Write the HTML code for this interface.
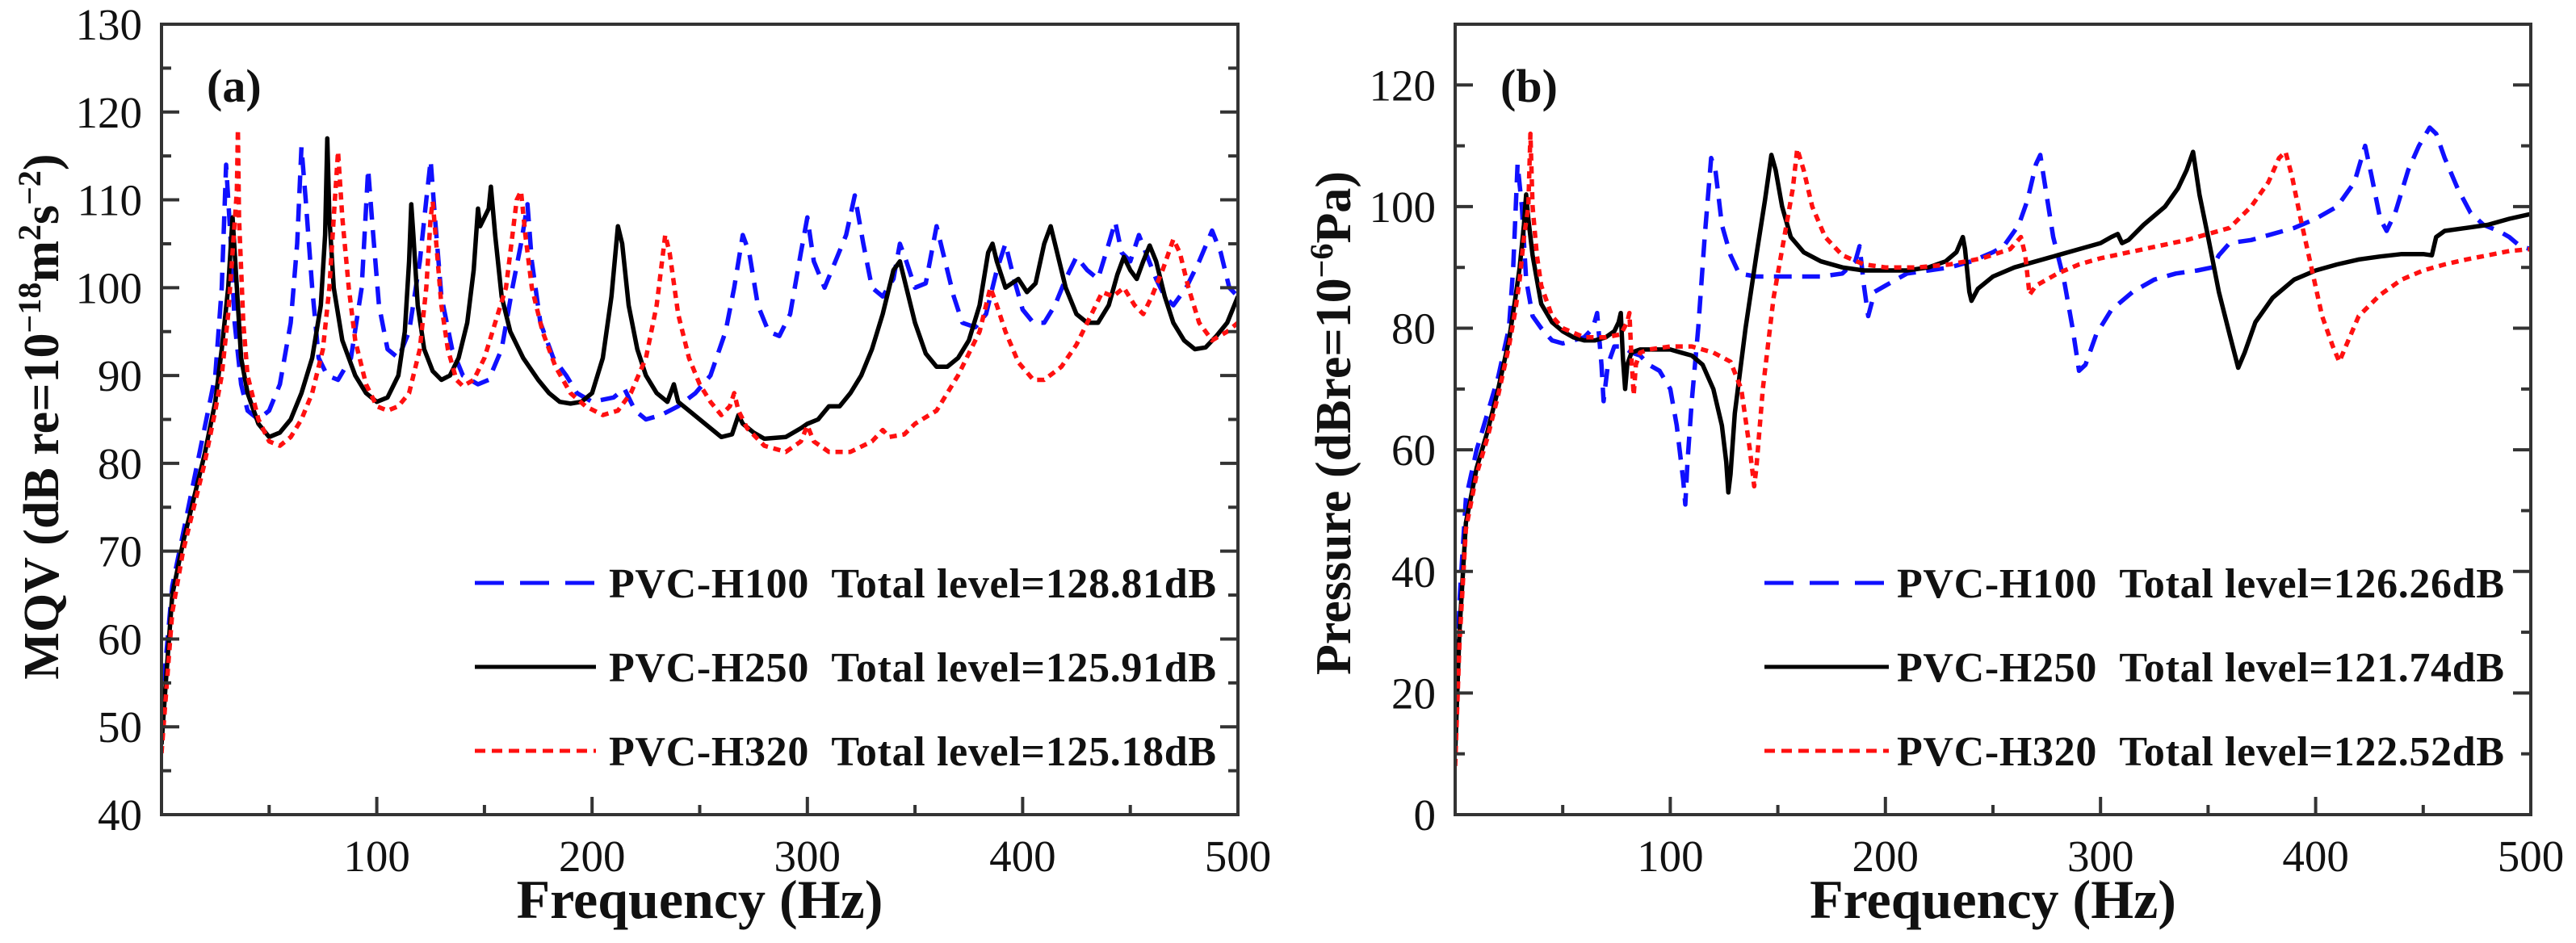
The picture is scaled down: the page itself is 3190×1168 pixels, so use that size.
<!DOCTYPE html>
<html><head><meta charset="utf-8"><style>
html,body{margin:0;padding:0;background:#fff}
svg{display:block}
text{font-family:"Liberation Serif","DejaVu Serif",serif;fill:#111}
</style></head><body>
<svg id="fig" width="3190" height="1168" viewBox="0 0 3190 1168" xmlns="http://www.w3.org/2000/svg">
<g id="pa"></g>
<g id="pb"></g>
</svg>
<script>
// ---- Panel (a) data: MQV ----
const aFreqH100=[0,5,10,15,20,25,28,30,32,34,37,40,45,50,55,60,63,65,67,70,73,77,82,88,93,96,98,101,105,110,115,120,123,125,127,130,135,140,147,152,158,163,167,170,172,176,182,188,193,200,210,215,220,225,232,240,248,255,262,266,270,273,277,282,287,292,297,300,303,308,313,318,322,326,330,335,340,343,346,350,355,360,364,368,372,378,383,388,392,396,400,405,410,415,420,425,430,435,440,443,446,450,454,458,462,466,470,476,482,488,492,496,500];
const aValH100=[52,66,72,78,84,90,100,114,106,96,89,86,85,86,89,96,105,116,110,100,92,90,89.5,92,100,113.5,107,98,93,92,95,103,110,114.5,108,99,93,90,89,89.5,93,100,105,109.5,103,96,92,90,88,87,87.5,88.5,86,85,85.5,86.5,88,90,95,100,106,104,98,95,94.5,97,104,108,103,100,103,106,110.5,105,100,99,101,105,103,100,100.5,107,103,99,96,95.5,97,102,105,101,97.5,96,96,98,101,103.5,102,101,105,107.5,104,103,106,103.5,101,99,98,100,103,106.5,104,100,99];
const aFreqH250=[0,2,5,10,15,20,25,28,31,33,35,37,40,45,50,55,60,65,70,74,76,77,78,80,84,90,95,100,105,110,113,115,116,117,119,122,126,130,134,138,142,145,147,148,150,152,153,155,158,162,168,175,180,185,190,195,200,205,209,212,214,217,221,225,230,235,238,240,245,250,255,260,265,268,270,275,280,290,297,300,305,310,315,320,325,330,335,340,343,346,350,355,360,365,370,375,380,384,386,388,392,395,398,402,406,410,413,416,420,425,430,435,440,444,447,450,453,456,459,462,466,470,475,480,485,490,495,500];
const aValH250=[48,55,65,71,76,81,87,93,100,108,100,92,88,84.5,83,83.5,85,88,92,98,106,117,108,100,94,90,88,87,87.5,90,95,103,109.5,106,98,93,90.5,89.5,90,92,96,102,109,107,108,109,111.5,106,99,95,92,89.5,88,87,86.8,87,88,92,99,107,105,98,93,90,88,87,89,87,86,85,84,83,83.3,85.5,84.5,83.5,82.8,83,84,84.5,85,86.5,86.5,88,90,93,97,102,103,100,96,92.5,91,91,92,94,98,104,105,103,100,100.5,101,99.5,100.5,105,107,104,100,97,96,96,98,101.5,103.5,102,101,103,104.8,103,99,96,94,93,93.2,94.5,96,99];
const aFreqH320=[0,5,10,15,20,25,28,31,33,35,35.5,36,38,40,45,50,55,60,65,70,75,78,80,82,84,87,90,95,100,105,110,115,120,123,125,126,128,130,133,137,140,145,150,155,160,163,165,167,169,172,177,183,190,197,205,212,218,225,230,234,236,240,245,250,255,260,264,266,268,272,280,290,297,300,303,310,320,330,335,338,345,350,360,370,380,385,388,392,398,405,410,418,425,432,437,442,447,452,456,460,465,470,473,477,482,488,495,500];
const aValH320=[47,63,70,75,80,86,90,97,104,111,118,108,96,90,85,82.5,82,83,85,88,93,100,108,115.5,108,100,94,89,86.5,86,86.5,88,93,100,108,109.8,104,98,93,89.5,88.8,89.5,92,96,100,106,110,111,106,100,95,91,88,86.5,85.5,86,88,92,98,106,104,97,92,89,87,85.5,86.5,88,86,84,82,81.3,82.5,84.3,82.5,81.3,81.3,82.5,83.8,83,83.3,84.5,86,90,95,100,98,95,91.5,89.5,89.5,91,93.5,97,99.5,99,100,98,97,99,102,105.5,104,100,96,94,95,96];
// ---- Panel (b) data: Pressure ----
const bFreqH100=[0,2,5,10,15,20,25,27,29,31,33,36,40,45,50,55,60,64,66,68,69,71,74,78,82,86,90,95,100,103,106,107,108,110,113,116,119,121,124,128,132,140,150,160,170,180,186,188,190,192,195,200,210,220,230,240,250,255,262,266,270,272,274,278,283,287,290,293,298,305,315,325,335,345,352,355,360,370,380,390,400,410,418,423,426,430,433,437,443,448,453,456,460,466,472,478,485,490,495,500];
const bValH100=[12,35,52,60,66,72,80,90,107,100,88,82,80,78,77.5,78,78.5,80,82.5,74,68,74,77,77,76,75.5,74,73,70,64,55,51,58,68,80,95,108,106,97,92,89,88.5,88.5,88.5,88.5,89,91,93.5,87,82,86,87,89,89.5,90,91,92.5,93.5,97,101,107,108.5,104,95,88,80,73,74,79,83,86,88,89,89.5,90,92,94,94.5,95.5,96.5,98,100,104,110,105,98,96,99,106,110,113,112,108,103,99,97,96,95,93.5,93];
const bFreqH250=[0,2,5,10,15,20,25,28,30,32,33,34,36,38,40,45,50,55,60,65,70,74,76,77,78,79,80,82,86,95,100,105,110,115,120,124,126,127,128,130,135,140,144,147,149,152,156,162,170,180,190,200,210,220,228,233,236,237,239,240,243,250,260,270,280,290,300,305,308,310,313,320,330,336,340,343,346,350,355,360,364,367,372,380,390,400,410,420,430,440,450,454,456,460,470,480,490,500];
const bValH250=[10,30,48,57,63,70,78,85,90,97,102,98,92,88,84,81,79.5,78.5,78,78,78.5,79.5,81,82.5,75,70,74,76,76.5,76.5,76.5,76,75.5,74,70,64,58,53,56,66,80,92,101,108.5,106,100,95,92.5,91,90,89.5,89.5,89.5,90,91,92.5,95,93,86,84.5,86.5,88.5,90,91,92,93,94,95,95.5,94,94.5,97,100,103,106,109,102,95,86,79,73.5,76,81,85,88,89.5,90.5,91.3,91.8,92.2,92.2,92,95,96,96.5,97,98,98.8];
const bFreqH320=[0,2,5,10,15,20,25,28,30,32,34,35,36,38,40,45,50,60,70,77,80,81,82,83,84,86,90,100,110,120,128,133,137,139,140,143,148,153,157,159,162,166,172,180,190,200,215,230,245,258,263,265,267,270,280,290,300,320,340,350,360,370,378,383,386,389,393,398,403,408,411,414,420,430,440,450,460,470,480,490,500];
const bValH320=[8,28,47,56,62,69,77,83,88,95,100,112,100,92,87,82,80,78.5,78.5,79,81,82.5,75,69,74,76,76.5,77,77,76,74.5,70,60,54,57,70,85,95,103,109.5,106,100,95,92,90.5,90,90,90.5,91.5,93,95,92,85.5,87,89,90.5,91.5,93,94.5,95.5,96.5,100,104,108,109,105,98,90,82,77,74.5,77,82,85.5,88,89.5,90.5,91.3,92,92.7,93];
// ---- axes ticks ----
const xTicks=[100,200,300,400,500];
const aYTicks=[40,50,60,70,80,90,100,110,120,130];
const bYTicks=[0,20,40,60,80,100,120];
const aLegend=["PVC-H100\u00a0\u00a0Total level=128.81dB","PVC-H250\u00a0\u00a0Total level=125.91dB","PVC-H320\u00a0\u00a0Total level=125.18dB"];
const bLegend=["PVC-H100\u00a0\u00a0Total level=126.26dB","PVC-H250\u00a0\u00a0Total level=121.74dB","PVC-H320\u00a0\u00a0Total level=122.52dB"];

const NS="http://www.w3.org/2000/svg";
function mk(tag,attrs,parent){const e=document.createElementNS(NS,tag);for(const k in attrs)e.setAttribute(k,attrs[k]);parent.appendChild(e);return e;}
const STY=[{c:"#1010ff",d:"22 13"},{c:"#000",d:""},{c:"#ff1010",d:"9 7"}];
const LSTY=[{c:"#1010ff",d:"36 20"},{c:"#000",d:""},{c:"#ff1010",d:"13 8"}];

function panel(g,L,R,T,B,ymin,ymax,yTicks,yMinorStep,series,legend,legX0,legX1,legTX,tag,ytitle){
  const sx=f=>L+(f/500)*(R-L);
  const sy=v=>B-(v-ymin)/(ymax-ymin)*(B-T);
  const clip=mk('clipPath',{id:'clip'+tag},g);
  mk('rect',{x:L,y:T,width:R-L,height:B-T},clip);
  const names=['series-h100','series-h250','series-h320'];
  series.forEach((s,i)=>{
    let d='';
    s[0].forEach((f,j)=>{d+=(j?'L':'M')+sx(f).toFixed(1)+' '+sy(s[1][j]).toFixed(1);});
    const p=mk('path',{d:d,fill:'none',stroke:STY[i].c,'stroke-width':5.5,'stroke-linejoin':'round','clip-path':'url(#clip'+tag+')'},g);
    if(STY[i].d)p.setAttribute('stroke-dasharray',STY[i].d);
    
    
  });
  const fr=mk('rect',{x:L,y:T,width:R-L,height:B-T,fill:'none',stroke:'#333','stroke-width':4},g);
  
  
  for(let f=50;f<=500;f+=50){
    const len=(f%100===0)?22:12;
    mk('line',{x1:sx(f),x2:sx(f),y1:B,y2:B-len,stroke:'#333','stroke-width':4},g);
  }
  xTicks.forEach(f=>{
    const t=mk('text',{x:sx(f),y:B+70,'font-size':55,'text-anchor':'middle'},g);
    t.textContent=f;
    
    
  });
  for(let v=ymin+yMinorStep;v<ymax;v+=yMinorStep){
    const major=yTicks.indexOf(v)>=0;
    const len=major?22:12;
    mk('line',{x1:L,x2:L+len,y1:sy(v),y2:sy(v),stroke:'#333','stroke-width':4},g);
    mk('line',{x1:R,x2:R-len,y1:sy(v),y2:sy(v),stroke:'#333','stroke-width':4},g);
  }
  yTicks.forEach(v=>{
    const t=mk('text',{x:L-24,y:sy(v)+19,'font-size':55,'text-anchor':'end'},g);
    t.textContent=v;
    
    
  });
  const xt=mk('text',{x:(L+R)/2,y:1137,'font-size':68,'font-weight':'bold','text-anchor':'middle'},g);
  xt.textContent='Frequency (Hz)';
  
  
  const pl=mk('text',{x:L+56,y:126,'font-size':58,'font-weight':'bold'},g);
  pl.textContent='('+tag+')';
  
  
  const rows=[722,826,930];
  legend.forEach((txt,i)=>{
    const ln=mk('line',{x1:legX0,x2:legX1,y1:rows[i],y2:rows[i],stroke:LSTY[i].c,'stroke-width':5},g);
    if(LSTY[i].d)ln.setAttribute('stroke-dasharray',LSTY[i].d);
    
    
    const t=mk('text',{x:legTX,y:rows[i]+18,'font-size':52,'font-weight':'bold'},g);
    t.textContent=txt;
    t.setAttribute('textLength',752);
    
    
  });
  ytitle(g);
}

function superTitle(g,cx,cy,parts,name){
  const t=mk('text',{x:0,y:0,'font-size':62,'font-weight':'bold','text-anchor':'middle',transform:'translate('+cx+','+cy+') rotate(-90)'},g);
  parts.forEach(p=>{
    const s=mk('tspan',{},t);
    if(p[1]){s.setAttribute('baseline-shift','super');s.setAttribute('font-size',40);}
    s.textContent=p[0];
  });
  
  
}

panel(document.getElementById('pa'),200,1533,30,1009,40,130,aYTicks,5,
  [[aFreqH100,aValH100],[aFreqH250,aValH250],[aFreqH320,aValH320]],aLegend,588,738,754,'a',
  g=>superTitle(g,72,516,[["MQV (dB re=10",0],["\u221218",1],["m",0],["2",1],["s",0],["\u22122",1],[")",0]],'y-axis-title'));
panel(document.getElementById('pb'),1802,3134,30,1009,0,130,bYTicks,10,
  [[bFreqH100,bValH100],[bFreqH250,bValH250],[bFreqH320,bValH320]],bLegend,2185,2339,2349,'b',
  g=>superTitle(g,1672,524,[["Pressure (dBre=10",0],["\u22126",1],["Pa)",0]],'y-axis-title'));
</script>
</body></html>
